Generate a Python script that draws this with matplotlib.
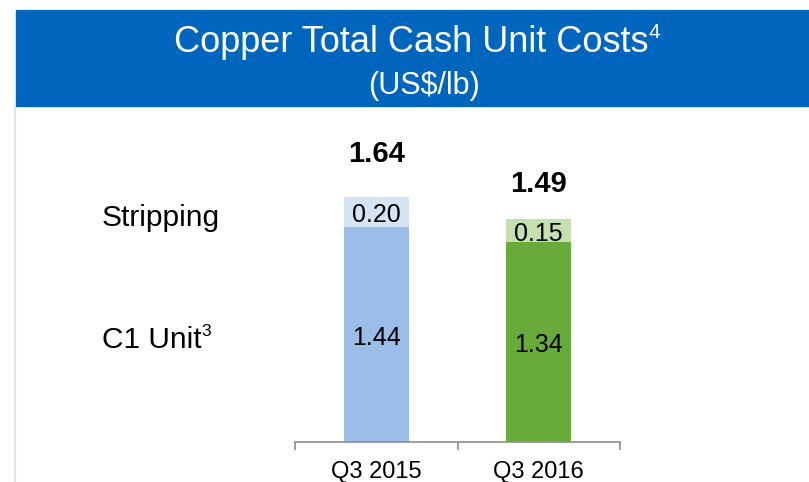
import matplotlib
matplotlib.use("Agg")
import matplotlib.pyplot as plt
import matplotlib.patches as patches
from matplotlib.lines import Line2D

plt.rcParams['font.family'] = ['Liberation Sans', 'DejaVu Sans']

# data
quarters = ['Q3 2015', 'Q3 2016']
c1_unit = [1.44, 1.34]
stripping = [0.20, 0.15]
totals = [1.64, 1.49]

c1_colors = ['#9BBEE8', '#69AB3B']
strip_colors = ['#D6E5F6', '#C4E0B0']

W, H = 809, 482
fig = plt.figure(figsize=(W / 100, H / 100), dpi=100)
renderer = fig.canvas.get_renderer()

def fx(px):
    return px / W

def fy(py):
    return 1 - py / H

def text_sup(x, y, s, sup, size, ha='left', **kw):
    # main text plus a small raised footnote number
    t = fig.text(x, y, s, fontsize=size, ha='left', va='baseline', **kw)
    bb = t.get_window_extent(renderer)
    ssize = size * 0.58
    sw = fig.text(0, 0, sup, fontsize=ssize).get_window_extent(renderer).width
    fig.texts.pop()
    total = bb.width + sw
    if ha == 'center':
        x0 = x - total / 2 / W
        t.set_x(x0)
    else:
        x0 = x
    fig.text(x0 + bb.width / W, y + size * 0.40 / 72 * 100 / H, sup, fontsize=ssize,
             ha='left', va='baseline', **kw)

# header band
fig.patches.append(patches.Rectangle((fx(16), fy(106)), fx(809 - 16), (106 - 10) / H,
                                     transform=fig.transFigure, color='#0066BD', zorder=0))
fig.lines.append(Line2D([fx(15.5), fx(15.5)], [fy(106), 0], transform=fig.transFigure,
                        color='#E3E3E3', lw=1.5))
fig.lines.append(Line2D([fx(16), 1], [fy(9), fy(9)], transform=fig.transFigure,
                        color='#E6E6E6', lw=0.8))
text_sup(fx(417), fy(52), 'Copper Total Cash Unit Costs', '4', 26, ha='center', color='white')
fig.text(fx(423.5), fy(94), '(US$/lb)', color='white', fontsize=22, ha='center', va='baseline')

# bar axes
px_unit = 149.4
ytop = 2.4
ax = fig.add_axes([fx(295), 40 / H, fx(620 - 295), ytop * px_unit / H])
x = list(range(len(quarters)))
ax.bar(x, c1_unit, width=0.4, color=c1_colors)
ax.bar(x, stripping, width=0.4, bottom=c1_unit, color=strip_colors)
ax.set_xlim(-0.5, 1.5)
ax.set_ylim(0, ytop)

for i in x:
    ax.annotate(f'{c1_unit[i]:.2f}', (i, c1_unit[i] / 2), xytext=(0, -2.5),
                textcoords='offset points', ha='center', va='center', fontsize=18)
    ax.annotate(f'{stripping[i]:.2f}', (i, c1_unit[i] + stripping[i] / 2), xytext=(0, -2.5),
                textcoords='offset points', ha='center', va='center', fontsize=18)
total_pad = [43, 35]
for i in x:
    ax.annotate(f'{totals[i]:.2f}', (i, totals[i]), xytext=(0, total_pad[i] * 0.72),
                textcoords='offset points', ha='center', va='center', fontsize=21,
                fontweight='bold')

for s in ['top', 'right', 'left']:
    ax.spines[s].set_visible(False)
ax.spines['bottom'].set_color('#8C8C8C')
ax.spines['bottom'].set_linewidth(1.2)
ax.set_yticks([])
ax.set_xticks([-0.5, 0.5, 1.5])
ax.set_xticklabels([])
ax.tick_params(axis='x', which='major', length=6, width=1.2, color='#8C8C8C', direction='out')
ax.set_xticks(x, minor=True)
ax.set_xticklabels(quarters, minor=True, fontsize=17)
ax.tick_params(axis='x', which='minor', length=0, pad=13.5)

fig.text(fx(102), fy(226.5), 'Stripping', fontsize=21.5, ha='left', va='baseline')
text_sup(fx(102), fy(348), 'C1 Unit', '3', 21.5)

fig.savefig('out.png', dpi=100, facecolor='white')
